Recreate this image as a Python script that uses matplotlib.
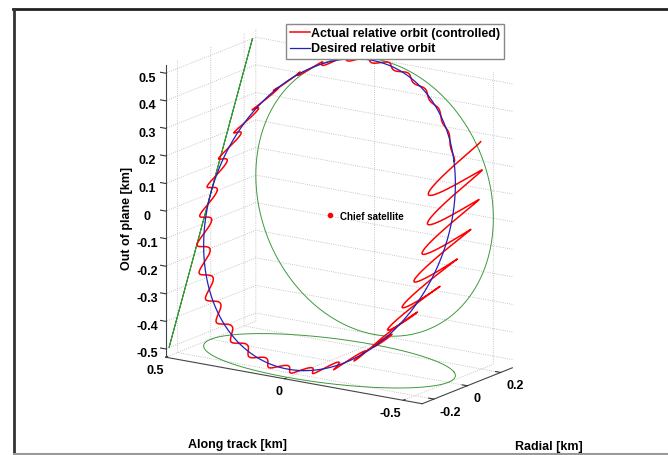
import numpy as np
import matplotlib.pyplot as plt
from matplotlib.lines import Line2D
from matplotlib.ticker import FuncFormatter

plt.rcParams['font.family'] = ['Liberation Sans', 'DejaVu Sans']
plt.rcParams['font.weight'] = 'bold'
plt.rcParams['axes.unicode_minus'] = False
plt.rcParams['grid.color'] = '#b4b4b4'
plt.rcParams['grid.linestyle'] = ':'
plt.rcParams['grid.linewidth'] = 0.6

# desired relative orbit, amplitudes [km]
along_amp = 0.5
radial_amp = 0.25
outplane_amp = 0.5
start_phase_deg = -62.0

# controlled orbit: oscillation around the desired one, decaying along the pass
err_cycles = 33
err_frac = [0, 0.08, 0.16, 0.2, 0.25, 0.3, 0.38, 0.45, 0.55, 0.7, 0.8, 0.9, 1.0]
err_amp = [0.16, 0.16, 0.13, 0.09, 0.055, 0.025, 0.02, 0.03, 0.042, 0.045, 0.02, 0.01, 0.004]

along_lim = [0.5, -0.58]
radial_lim = [-0.27, 0.27]
outplane_lim = [-0.53, 0.53]
along_ticks = [0.5, 0, -0.5]
radial_ticks = [-0.2, 0, 0.2]
outplane_ticks = [-0.5, -0.4, -0.3, -0.2, -0.1, 0, 0.1, 0.2, 0.3, 0.4, 0.5]

s = np.linspace(0, 1, 3000)
t = np.radians(start_phase_deg) - 2 * np.pi * s
along = along_amp * np.sin(t)
radial = radial_amp * np.cos(t)
outp = outplane_amp * np.cos(t)

env = np.interp(s, err_frac, err_amp)
ph = 2 * np.pi * err_cycles * s
along_act = along + 0.08 * env * np.sin(ph)
radial_act = radial + env * np.cos(ph)
outp_act = outp + 0.2 * env * np.cos(ph)

fig = plt.figure(figsize=(6.68, 4.55), dpi=100)
ax = fig.add_axes([0.146, -0.006, 0.704, 1.033], projection='3d',
                  proj_type='ortho', computed_zorder=False)
ax.set_box_aspect((311, 162, 305), zoom=0.955)
ax.view_init(elev=15.6, azim=-56)
ax.zaxis._axinfo['juggled'] = (1, 2, 0)

green = '#3d9a3d'
ax.plot(along, np.full_like(along, radial_lim[1]), outp, color=green, lw=0.7)
ax.plot(along, radial, np.full_like(along, outplane_lim[0]), color=green, lw=0.7)
ax.plot(np.full_like(along, along_lim[0]), radial, outp, color=green, lw=0.8)

ax.plot(along_act, radial_act, outp_act, color='#ff0000', lw=1.1,
        label='Actual relative orbit (controlled)')
ax.plot(along, radial, outp, color='#2222bb', lw=0.9,
        label='Desired relative orbit')
ax.plot([0], [0], [0], 'o', color='#ff0000', ms=3)
ax.text(-0.045, 0, 0, 'Chief satellite', fontsize=7, va='center', ha='left')

ax.set_xlim(along_lim)
ax.set_ylim(radial_lim)
ax.set_zlim(outplane_lim)
ax.set_xticks(along_ticks)
ax.set_yticks(radial_ticks)
ax.set_zticks(outplane_ticks)
fmt = FuncFormatter(lambda v, p: f'{round(v, 2) + 0:g}')
for axis in (ax.xaxis, ax.yaxis, ax.zaxis):
    axis.set_major_formatter(fmt)
    axis.set_pane_color((1, 1, 1, 1))
    axis.pane.set_edgecolor('white')
    axis.line.set_color('#444444')
    axis.line.set_linewidth(0.8)
    axis._axinfo['tick']['inward_factor'] = 0.0
    axis._axinfo['tick']['outward_factor'] = 0.25
ax.tick_params(labelsize=9, colors='#333333', labelcolor='black', width=0.8)
ax.xaxis.set_tick_params(pad=-4)
ax.yaxis.set_tick_params(pad=-4)
ax.zaxis.set_tick_params(pad=1.5)
for tk in ax.xaxis.get_major_ticks():
    tk.label1.set_horizontalalignment('right')
for tk in ax.yaxis.get_major_ticks():
    tk.label1.set_horizontalalignment('left')

ax.legend(loc='upper left', bbox_to_anchor=(286 / 668, 1 - 24 / 455),
          bbox_transform=fig.transFigure, fancybox=False, edgecolor='#888888',
          framealpha=1, fontsize=9, handlelength=1.6, handletextpad=0.1,
          borderpad=0.3, labelspacing=0.3, borderaxespad=0)

fig.text(127 / 668, 1 - 218 / 455, 'Out of plane [km]', rotation=90,
         ha='center', va='center', fontsize=9)
fig.text(237 / 668, 1 - 445 / 455, 'Along track [km]', ha='center', va='center', fontsize=9)
fig.text(549 / 668, 1 - 447 / 455, 'Radial [km]', ha='center', va='center', fontsize=9)

# frame around the picture
fig.add_artist(Line2D([13 / 668, 1], [1 - 9 / 455] * 2, color='#222222', lw=2))
fig.add_artist(Line2D([14 / 668] * 2, [0, 1 - 9 / 455], color='#333333', lw=2))
fig.add_artist(Line2D([14 / 668, 1], [1.5 / 455] * 2, color='#999999', lw=1.5))

fig.savefig('out.png', dpi=100)
